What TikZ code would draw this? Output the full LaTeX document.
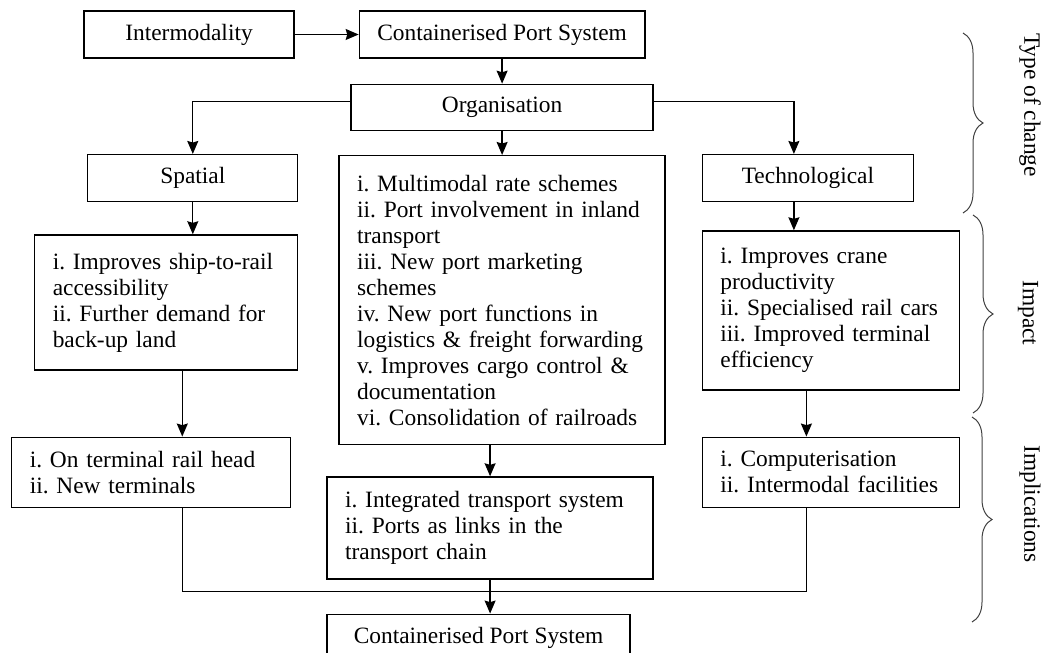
\documentclass[tikz,border=0pt]{standalone}
\usepackage{fontspec}
\setmainfont{Liberation Serif}
\usetikzlibrary{positioning,arrows.meta,decorations.pathreplacing}

\begin{document}
\begin{tikzpicture}[x=0.5pt,y=-0.5pt,font=\fontsize{11.7}{13}\selectfont\frenchspacing]
    \tikzstyle{box}=[draw, line width=0.65pt, minimum height=23.5pt, inner xsep=9pt, inner ysep=0pt]
    \tikzstyle{list}=[box, align=left]
    \tikzstyle{link}=[line width=0.65pt]
    \tikzstyle{arrowto}=[link, -{Stealth[length=6.5pt,width=5.5pt,inset=0.8pt]}]
    \tikzstyle{grouping}=[decorate, decoration={brace,amplitude=10pt}, line width=0.5pt, black!75]
    \tikzstyle{sidetext}=[rotate=-90]
    \useasboundingbox (0,0) rectangle (1042,652);

    % Type of change
    \node[box,minimum width=105pt] (intermodality) at (189,34.5) {Intermodality};
    \node[box,minimum width=140pt,right=32pt of intermodality] (cps) {Containerised Port System};
    \node[box,minimum width=151pt,minimum height=23pt,below=12.5pt of cps] (organisation) {Organisation};
    \node[box,minimum width=105pt,below left=11.5pt and 26pt of organisation] (spatial) {Spatial};
    \node[box,minimum width=105.5pt,below right=11.5pt and 24pt of organisation] (technological) {Technological};

    % Impact
    \node[list,text width=145pt,minimum height=144.5pt,below=12pt of organisation] (orgimpact)
        {i. Multimodal rate schemes\\ii. Port involvement in inland\\transport\\iii. New port marketing\\schemes\\iv. New port functions in\\logistics \& freight forwarding\\v. Improves cargo control \&\\documentation\\vi. Consolidation of railroads};
    \node[list,text width=113.5pt,minimum height=67.5pt,below=16pt of spatial.south east,anchor=north east] (spatialimpact)
        {i. Improves ship-to-rail\\accessibility\\ii. Further demand for\\back-up land};
    \node[list,text width=110.5pt,minimum height=79.5pt,below=14pt of technological.south west,anchor=north west] (techimpact)
        {i. Improves crane\\productivity\\ii. Specialised rail cars\\iii. Improved terminal\\efficiency};

    % Implications
    \node[list,text width=121.5pt,minimum height=35pt,below=33pt of spatialimpact.south west,anchor=north west,xshift=-11.5pt] (spatialimpl)
        {i. On terminal rail head\\ii. New terminals};
    \node[list,text width=145pt,minimum height=51pt,below=15.5pt of orgimpact.south west,anchor=north west,xshift=-6pt] (orgimpl)
        {i. Integrated transport system\\ii. Ports as links in the\\transport chain};
    \node[list,text width=110.5pt,minimum height=35pt,below=23pt of techimpact] (techimpl)
        {i. Computerisation\\ii. Intermodal facilities};
    \node[box,minimum width=151.5pt,below=17pt of orgimpl.south west,anchor=north west] (cpsout) {Containerised Port System};

    \coordinate (techline) at ([xshift=-7pt]technological.north);
    \coordinate (leftline) at ([xshift=8pt]spatialimpact.south);
    \coordinate (rightline) at ([xshift=-12.25pt]techimpact.south);
    \coordinate (merge) at ([yshift=-6pt]orgimpl.south);

    \draw[arrowto] (intermodality) -- (cps);
    \draw[arrowto] (cps) -- (organisation);
    \draw[arrowto] ([yshift=3pt]organisation.west) -| (spatial);
    \draw[arrowto] ([yshift=3pt]organisation.east) -| (techline);
    \draw[arrowto] (organisation) -- (orgimpact);

    \draw[arrowto] (spatial) -- (spatial |- spatialimpact.north);
    \draw[arrowto] (techline |- technological.south) -- (techline |- techimpact.north);
    \draw[arrowto] (leftline) -- (leftline |- spatialimpl.north);
    \draw[arrowto] (rightline) -- (rightline |- techimpl.north);
    \draw[arrowto] (orgimpl.north |- orgimpact.south) -- (orgimpl);

    \draw[link] (spatialimpl.south -| leftline) |- (merge) -| (techimpl.south -| rightline);
    \draw[arrowto] (orgimpl) -- (orgimpl |- cpsout.north);

    % braces
    \draw[grouping] (963,33) -- (963,213);
    \draw[grouping] (973,215) -- (973,413);
    \draw[grouping] (972,417) -- (972,622);
    \node[sidetext] (typeofchange) at (1030,105) {Type of change};
    \node[sidetext] (impact) at (1028,313) {Impact};
    \node[sidetext] (implications) at (1030,504) {Implications};
\end{tikzpicture}
\end{document}
